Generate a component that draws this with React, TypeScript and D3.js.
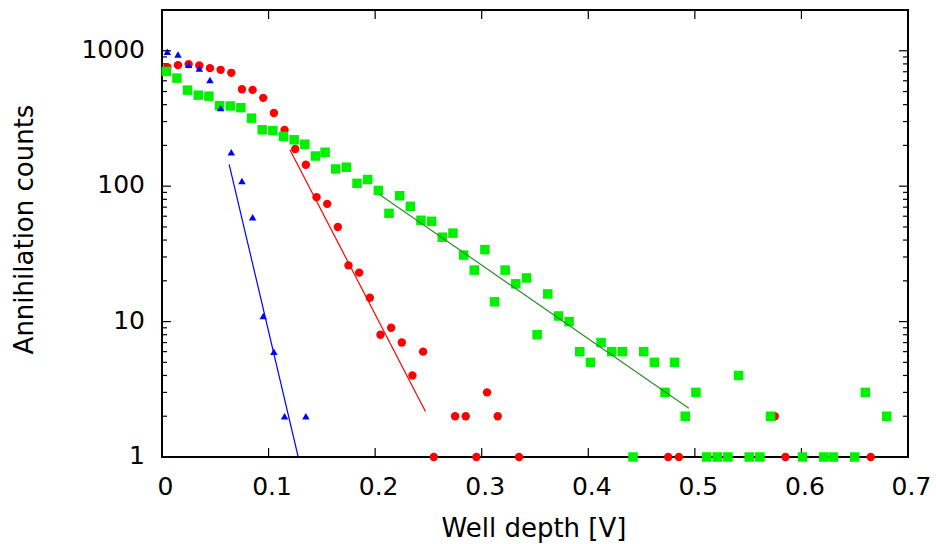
import React from "react";
import * as d3 from "d3";

// ---- data ----
const blueX = [0.005, 0.015, 0.025, 0.035, 0.045, 0.055, 0.065, 0.075, 0.085, 0.095, 0.105, 0.115, 0.135];
const blueY = [985, 939, 788, 739, 609, 378, 178, 109, 59, 11, 6, 2, 2];

const redX = [0.005, 0.015, 0.025, 0.035, 0.045, 0.055, 0.065, 0.075, 0.085, 0.095, 0.105, 0.115, 0.125, 0.135, 0.145, 0.155, 0.165, 0.175, 0.185, 0.195, 0.205, 0.215, 0.225, 0.235, 0.245, 0.255, 0.275, 0.285, 0.295, 0.305, 0.315, 0.335, 0.475, 0.485, 0.575, 0.585, 0.665];
const redY = [757, 783, 797, 778, 744, 723, 687, 520, 514, 449, 347, 260, 188, 144, 83, 74, 50, 26, 23, 15, 8, 9, 7, 4, 6, 1, 2, 2, 1, 3, 2, 1, 1, 1, 2, 1, 1];

const greenX = [0.004, 0.014, 0.024, 0.034, 0.044, 0.054, 0.064, 0.074, 0.084, 0.094, 0.104, 0.114, 0.124, 0.134, 0.144, 0.153, 0.163, 0.173, 0.183, 0.193, 0.203, 0.213, 0.223, 0.233, 0.243, 0.253, 0.263, 0.273, 0.283, 0.293, 0.303, 0.312, 0.322, 0.332, 0.342, 0.352, 0.362, 0.372, 0.382, 0.392, 0.402, 0.412, 0.422, 0.432, 0.442, 0.452, 0.462, 0.472, 0.481, 0.491, 0.501, 0.511, 0.521, 0.531, 0.541, 0.551, 0.561, 0.571, 0.601, 0.621, 0.630, 0.650, 0.660, 0.680];
const greenY = [703, 628, 512, 470, 462, 393, 391, 380, 318, 261, 257, 233, 220, 204, 167, 178, 134, 138, 105, 112, 93, 63, 85, 71, 56, 55, 42, 45, 31, 24, 34, 14, 24, 19, 21, 8, 16, 11, 10, 6, 5, 7, 6, 6, 1, 6, 5, 3, 5, 2, 3, 1, 1, 1, 4, 1, 1, 2, 1, 1, 1, 1, 3, 2];

// exponential fits: [x0, y0, x1, y1]
const blueFit = [0.063, 145, 0.1278, 1.0];
const redFit = [0.12, 186, 0.2472, 2.17];
const greenFit = [0.2037, 87.3, 0.4943, 2.29];

const xTicks = [0, 0.1, 0.2, 0.3, 0.4, 0.5, 0.6, 0.7];
const yTicks = [1, 10, 100, 1000];

const xLabel = "Well depth [V]";
const yLabel = "Annihilation counts";

const W = 936, H = 544;
const L = 162, R = 908, T = 10, B = 457;
const FONT = "'DejaVu Sans', sans-serif";

export default function App() {
  const x = d3.scaleLinear().domain([0, 0.7]).range([L, R]);
  const y = d3.scaleLog().domain([1, 2000]).range([B, T]);

  const minorY: number[] = [];
  for (const dec of [1, 10, 100, 1000]) {
    for (let m = 2; m <= 9; m++) {
      const v = dec * m;
      if (v < 2000) minorY.push(v);
    }
  }

  const line = (f: number[]) => {
    const g = d3.line<[number, number]>().x((d) => x(d[0])).y((d) => y(d[1]));
    return g([[f[0], f[1]], [f[2], f[3]]]) || "";
  };

  const tri = (cx: number, cy: number) => {
    const w = 7.5, h = 6.5;
    return `M${cx},${cy - h / 2}L${cx + w / 2},${cy + h / 2}L${cx - w / 2},${cy + h / 2}Z`;
  };

  return (
    <svg width={W} height={H} style={{ position: "absolute", left: 0, top: 0, background: "#fff" }} fontFamily={FONT}>
      <rect x={0} y={0} width={W} height={H} fill="#fff" />
      <defs>
        <clipPath id="plot">
          <rect x={L} y={T} width={R - L} height={B - T} />
        </clipPath>
      </defs>

      {/* ticks */}
      <g stroke="#000" strokeWidth={1.2}>
        {xTicks.map((t) => (
          <g key={"xt" + t}>
            <line x1={x(t)} x2={x(t)} y1={B} y2={B - 9} />
            <line x1={x(t)} x2={x(t)} y1={T} y2={T + 9} />
          </g>
        ))}
        {yTicks.map((t) => (
          <g key={"yt" + t}>
            <line x1={L} x2={L + 9} y1={y(t)} y2={y(t)} />
            <line x1={R} x2={R - 9} y1={y(t)} y2={y(t)} />
          </g>
        ))}
        {minorY.map((t) => (
          <g key={"ym" + t}>
            <line x1={L} x2={L + 5} y1={y(t)} y2={y(t)} />
            <line x1={R} x2={R - 5} y1={y(t)} y2={y(t)} />
          </g>
        ))}
      </g>

      {/* frame */}
      <rect x={L} y={T} width={R - L} height={B - T} fill="none" stroke="#000" strokeWidth={2} />

      {/* data */}
      <g>
        {redX.map((v, i) => (
          <circle key={"r" + i} cx={x(v)} cy={y(redY[i])} r={4.2} fill="#ff0000" />
        ))}
        {greenX.map((v, i) => (
          <rect key={"g" + i} x={x(v) - 4.75} y={y(greenY[i]) - 4.75} width={9.5} height={9.5} fill="#00f000" />
        ))}
        {blueX.map((v, i) => (
          <path key={"b" + i} d={tri(x(v), y(blueY[i]))} fill="#0000ff" />
        ))}
      </g>
      <g clipPath="url(#plot)">
        <path d={line(blueFit)} stroke="#0000ff" strokeWidth={1.2} fill="none" />
        <path d={line(redFit)} stroke="#ff0000" strokeWidth={1.2} fill="none" />
        <path d={line(greenFit)} stroke="#2a8f2a" strokeWidth={1.2} fill="none" />
      </g>

      {/* tick labels */}
      <g fontSize={25} fill="#000">
        {xTicks.map((t) => (
          <text key={"xl" + t} x={x(t) + 3.5} y={B + 38} textAnchor="middle">
            {d3.format("~g")(t)}
          </text>
        ))}
        {yTicks.map((t) => (
          <text key={"yl" + t} x={145} y={y(t) + 7} textAnchor="end">
            {String(t)}
          </text>
        ))}
      </g>

      {/* axis titles */}
      <text x={(L + R) / 2 - 1} y={537} textAnchor="middle" fontSize={26} fill="#000">
        {xLabel}
      </text>
      <text transform={`translate(33,${(T + B) / 2 - 4}) rotate(-90)`} textAnchor="middle" fontSize={26} fill="#000">
        {yLabel}
      </text>
    </svg>
  );
}
